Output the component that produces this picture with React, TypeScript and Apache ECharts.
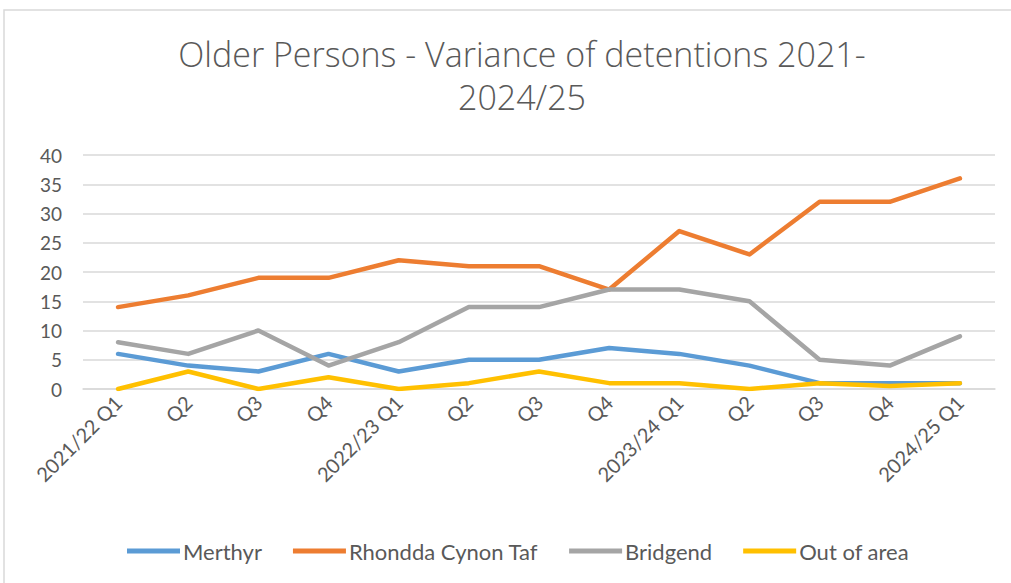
import React, { useEffect, useRef } from "react";
import * as echarts from "echarts";

const categories = [
  "2021/22 Q1", "Q2", "Q3", "Q4",
  "2022/23 Q1", "Q2", "Q3", "Q4",
  "2023/24 Q1", "Q2", "Q3", "Q4",
  "2024/25 Q1",
];
const merthyr = [6, 4, 3, 6, 3, 5, 5, 7, 6, 4, 1, 1, 1];
const rct = [14, 16, 19, 19, 22, 21, 21, 17, 27, 23, 32, 32, 36];
const bridgend = [8, 6, 10, 4, 8, 14, 14, 17, 17, 15, 5, 4, 9];
const outOfArea = [0, 3, 0, 2, 0, 1, 3, 1, 1, 0, 1, 0.5, 1];

const seriesNames = ["Merthyr", "Rhondda Cynon Taf", "Bridgend", "Out of area"];
const seriesColors = ["#5B9BD5", "#ED7D31", "#A5A5A5", "#FFC000"];
const seriesData = [merthyr, rct, bridgend, outOfArea];

const FONT = "Lato";
const TEXT = "#595959";

export default function App() {
  const ref = useRef<HTMLDivElement>(null);
  useEffect(() => {
    if (!ref.current) return;
    const chart = echarts.init(ref.current, null, { renderer: "svg" });
    chart.setOption({
      animation: false,
      backgroundColor: "#ffffff",
      title: {
        text: "Older Persons - Variance of detentions 2021-\n2024/25",
        left: 517,
        textAlign: "center",
        top: 27,
        textStyle: {
          fontFamily: "Open Sans",
          fontWeight: 300,
          fontSize: 34,
          color: TEXT,
          lineHeight: 43,
        },
      },
      graphic: [
        {
          type: "rect",
          shape: { x: 4, y: 10, width: 1030, height: 600 },
          style: { fill: "none", stroke: "#D9D9D9", lineWidth: 1.5 },
          silent: true,
        },
      ],
      legend: {
        data: seriesNames,
        left: 122,
        top: 535,
        icon: "rect",
        itemWidth: 53,
        itemHeight: 5,
        itemGap: 31,
        textStyle: { fontFamily: FONT, fontSize: 22, color: TEXT, padding: [0, 0, 0, -2] },
      },
      grid: { left: 83, right: 16, top: 155, bottom: 194, containLabel: false },
      xAxis: {
        type: "category",
        data: categories,
        boundaryGap: true,
        axisLine: { show: true, lineStyle: { color: "#D9D9D9", width: 1.5 } },
        axisTick: { show: false },
        axisLabel: {
          rotate: 45,
          interval: 0,
          margin: 10,
          fontFamily: FONT,
          fontSize: 20,
          color: TEXT,
        },
      },
      yAxis: {
        type: "value",
        min: 0,
        max: 40,
        interval: 5,
        axisLine: { show: false },
        axisTick: { show: false },
        axisLabel: { fontFamily: FONT, fontSize: 19, color: TEXT, margin: 21 },
        splitLine: { lineStyle: { color: "#D9D9D9", width: 1.5 } },
      },
      series: seriesData.map((d, i) => ({
        name: seriesNames[i],
        type: "line",
        data: d,
        symbol: "none",
        color: seriesColors[i],
        lineStyle: { width: 4.5, color: seriesColors[i], cap: "round", join: "round" },
      })),
    });
    return () => chart.dispose();
  }, []);
  return (
    <div
      ref={ref}
      style={{ position: "fixed", left: 0, top: 0, width: 1011, height: 583 }}
    />
  );
}
